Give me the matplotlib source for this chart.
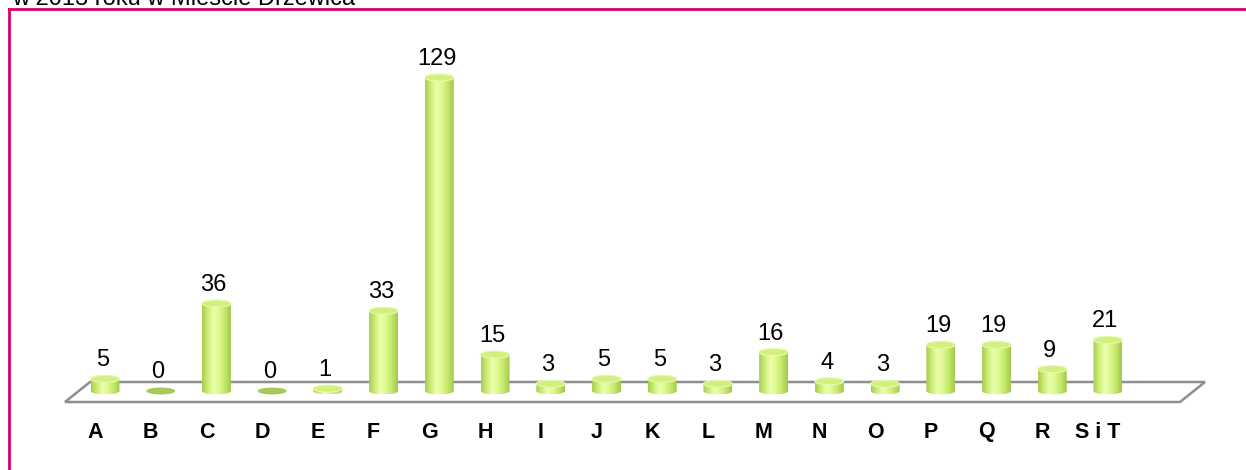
import numpy as np
import matplotlib
matplotlib.use("Agg")
import matplotlib.pyplot as plt
from matplotlib.path import Path
from matplotlib.patches import PathPatch, Ellipse, Polygon
from matplotlib.colors import LinearSegmentedColormap
from matplotlib.lines import Line2D

plt.rcParams['font.family'] = ['Liberation Sans', 'DejaVu Sans']

# data
categories = ["A", "B", "C", "D", "E", "F", "G", "H", "I", "J",
              "K", "L", "M", "N", "O", "P", "Q", "R", "S i T"]
values = [5, 0, 36, 0, 1, 33, 129, 15, 3, 5, 5, 3, 16, 4, 3, 19, 19, 9, 21]
title = "w 2013 roku w Mieście Drzewica"

W, H = 1246, 470
fig = plt.figure(figsize=(W / 100, H / 100), dpi=100)
ax = fig.add_axes([0, 0, 1, 1])

# pixel mapping: index -> x px, value -> y px (from bottom)
x0, dx = 105, 55.72
y0, dy = 79, 2.43
ax.set_xlim(-x0 / dx, (W - x0) / dx)
ax.set_ylim(-y0 / dy, (H - y0) / dy)
ax.axis("off")

bw = 29 / dx          # cylinder width in data units
eh = 7 / dy           # ellipse height in data units

# floor (3D base plane)
back_dx = 25 / dx
front_y = -11 / dy
back_y = 9 / dy
floor = Polygon([(-40 / dx, front_y), (1075 / dx, front_y),
                 (1075 / dx + back_dx, back_y), (-40 / dx + back_dx, back_y)],
                closed=True, facecolor="white", edgecolor="#8e8e8e",
                linewidth=1.8, zorder=1)
ax.add_patch(floor)

body_cmap = LinearSegmentedColormap.from_list(
    "cyl", ["#a9cc55", "#cdee78", "#ecffad", "#dcf88e", "#c2e66a", "#a3c84e"])
grad = np.linspace(0, 1, 64).reshape(1, -1)

for i, v in enumerate(values):
    left, right = i - bw / 2, i + bw / 2
    if v == 0:
        ax.add_patch(Ellipse((i, 0), bw, eh, facecolor="#a6c95a",
                             edgecolor="none", zorder=3))
    else:
        th = np.linspace(np.pi, 2 * np.pi, 40)
        pts = list(zip(i + bw / 2 * np.cos(th), eh / 2 * np.sin(th)))
        pts += [(right, v), (left, v), pts[0]]
        clip = PathPatch(Path(pts), facecolor="none", edgecolor="none")
        ax.add_patch(clip)
        im = ax.imshow(grad, cmap=body_cmap, aspect="auto",
                       extent=(left, right, -eh / 2, v), zorder=3,
                       interpolation="bilinear")
        im.set_clip_path(clip)
        ax.add_patch(Ellipse((i, v), bw, eh, facecolor="#d2ef80",
                             edgecolor="#e6fba8", linewidth=0.8, zorder=4))
    ax.text(i - 0.05, v + eh / 2 + 9 / dy, str(v), ha="center",
            va="baseline", fontsize=17, color="black", zorder=5)

for i, c in enumerate(categories):
    ax.text(i - 0.18, -41 / dy, c, ha="center", va="center",
            fontsize=15.5, fontweight="bold", color="black")

# frame around chart
fig.add_artist(Line2D([9 / W, 9 / W], [0, 1 - 9 / H], color="#d4006e",
                      linewidth=2, transform=fig.transFigure))
fig.add_artist(Line2D([9 / W, 1], [1 - 9 / H, 1 - 9 / H], color="#d4006e",
                      linewidth=2, transform=fig.transFigure))

# title, cut off at the top edge as in the source
fig.text(12 / W, 1 - 5 / H, title, ha="left", va="baseline",
         fontsize=17, color="black")

fig.savefig("out.png", dpi=100)
